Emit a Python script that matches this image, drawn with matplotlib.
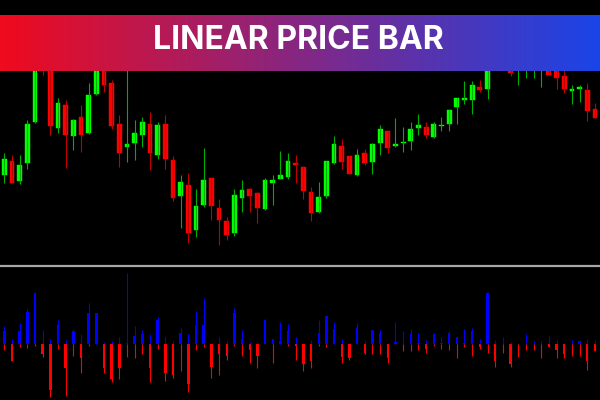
import numpy as np
import matplotlib
matplotlib.use('Agg')
import matplotlib.pyplot as plt
from matplotlib.lines import Line2D

# candle data (open, high, low, close) on an arbitrary price scale
opens = [125, 138.7, 119.3, 136.7, 177.7, 255, 242, 172, 195, 163.7,
         182.7, 167.3, 206.3, 240, 217, 176, 153.3, 157, 165.3, 176,
         145, 176, 140.3, 104.3, 114.7, 70, 95, 122, 92.3, 79,
         66.7, 102.3, 111.3, 106.7, 90.7, 117.3, 121.3, 123, 137, 133.3,
         108, 88.3, 104, 136.7, 154, 144, 125, 147, 138.3, 157,
         169, 153.7, 157, 159, 172, 173, 163, 174.3, 176, 193,
         200, 200, 213, 211.3, 245, 265, 255, 235, 236, 240,
         238, 245, 236, 224, 209.5, 211.3, 210, 191]
highs = [147, 145, 145, 179.7, 245, 262, 250, 201.7, 200, 181.3,
         195, 217.3, 242, 246, 220, 185, 232, 179.7, 183, 188.3,
         178, 185, 143.7, 125, 126.7, 111.3, 152, 122, 100.7, 83.3,
         111.3, 120, 112.3, 107.7, 121.7, 125, 149, 147, 145, 134,
         113.3, 118.3, 139.3, 164.3, 161, 144, 151, 151, 156.7, 175,
         169, 181.7, 173, 178, 186.3, 178, 178, 183, 191.3, 201.7,
         219, 219, 220, 245, 268, 272, 262, 258, 262, 266,
         260, 252, 240, 230, 215.3, 214.7, 216.7, 196.7]
lows = [117.3, 117, 116, 131.3, 177, 225, 165.3, 167.3, 131.7, 150,
        148, 165.7, 205, 208.3, 171, 133, 138.3, 140.3, 153.3, 130,
        140.7, 131.3, 99, 72.3, 57, 63.3, 92.7, 80, 55, 60,
        64.3, 88.3, 88.3, 76.7, 90, 95.3, 121, 121, 117.3, 101.3,
        79, 87.3, 101.7, 136, 131.3, 126, 124.3, 134.7, 126, 145,
        147, 153.3, 148, 150, 165, 162.3, 162.3, 169, 169, 176,
        196.3, 185.7, 208, 201, 240, 245, 224, 215, 221.7, 221.7,
        213.3, 225, 211.3, 206.7, 196.3, 197.7, 179.3, 182.3]
closes = [140.7, 117.3, 135.3, 176, 238, 238, 174.3, 197, 165.3, 179.7,
          165.3, 205, 235, 215, 174.3, 147, 156, 167.3, 178, 147,
          174.7, 141.3, 102.3, 118, 66.7, 94, 120, 94.3, 80, 65,
          105, 110, 104, 92.3, 120, 120, 125, 138.7, 134.7, 109.3,
          87.3, 103, 138.7, 156, 138.3, 126, 145, 136.7, 156, 171,
          152, 156, 158.3, 171, 175, 165, 176, 175, 190, 201.7,
          201.7, 215, 210, 240, 260, 250, 227, 250, 252, 255,
          250, 225, 222, 211.3, 211, 213.3, 189.3, 182.3]

# linear price bar histogram: upper tick, lower tick, body
hist_hi = [17.7, 5, 20.3, 34.3, 51.3, 13.7, 5, 23.3, 3.7, 13.7,
           9.7, 40.3, 30.3, 1.3, 2.3, 6.7, 71, 18, 14, 9.7,
           26.3, 6.7, 2.3, 16, 9.7, 33, 46, 0, 6.7, 2.3,
           36, 14, 1.3, 1.3, 24.3, 5, 22, 19.3, 6.7, 0,
           3.7, 23.7, 27.7, 22, 5, 0, 20.7, 2.3, 14, 14,
           0, 22, 12.7, 15, 11, 3.7, 11, 6.3, 12.7, 6.7,
           15, 15.3, 5, 51.7, 3.7, 6.7, 1.3, 0, 9.7, 2.3,
           2.3, 8, 3.7, 0, 3.7, 2.3, 5, 3.7]
hist_lo = [-6.3, -17.3, -3, -4.7, -2, -13.7, -53.7, -5, -52.3, -12,
           -29, -2.3, 0, -29.7, -38.3, -35.7, -13.7, -14.7, -10.7, -38.3,
           -5, -37.3, -34, -27.3, -48, -6, -3, -34, -31.3, -16,
           -2, -12, -19, -24, 0, -19, 0, -2, -16, -27,
           -24, -2, -3, 0, -19, -16, 0, -10.7, -10.7, -10.7,
           -19, 0, -7.7, -7.7, -6.3, -9.3, -2, -5, -6.3, -14.3,
           -3.7, -12, -5, -9.3, -23, -9.3, -23, -13.7, -6.3, -6.3,
           -14.3, -3.3, -14.3, -14.3, -12, -12, -26.3, -7.7]
hist_body = [12.7, -17.3, 12.7, 32, 50.3, -10.7, -46.3, 18.7, -24, 12.7,
             -14, 30.3, 30.3, -24, -35.7, -24, 1, 8, 9.7, -24,
             23.7, -29, -31.3, 10.3, -40.3, 18.7, 18.7, -23.3, -10.7, -12.3,
             30.3, 5, -6, -12.3, 23.7, 5, 2.7, 12.7, -2, -20.3,
             -17.3, 11, 27.7, 15, -13.7, -14.7, 16, -9.3, 14, 11,
             -14.3, 2, 0, 9.7, 0.5, -5.7, 9.7, 1, 11, 6.7,
             1, 12.7, -3.7, 50.3, -17.3, 0, -20.3, 0, 0, 0,
             0, -3.3, -6, -10.7, 0, 2.3, -17.3, -7.7]

title = 'LINEAR PRICE BAR'

n = len(opens)
x = np.arange(n)
W, H = 600, 400

fig = plt.figure(figsize=(6, 4), dpi=100, facecolor='black')

# price panel
ax = fig.add_axes([0, 136 / H, 1, 264 / H])
ax.set_facecolor('black')
for i in range(n):
    up = closes[i] >= opens[i]
    col = '#00ff00' if up else '#ff0000'
    wick = '#00b000' if up else '#c00000'
    ax.vlines(x[i], lows[i], highs[i], color=wick, lw=0.8)
    lo, hi = min(opens[i], closes[i]), max(opens[i], closes[i])
    ax.bar(x[i], max(hi - lo, 0.8), bottom=lo, width=0.62, color=col,
           edgecolor=col, lw=0.3)
ax.set_xlim(-4.3 / 7.67, (W - 4.3) / 7.67)
ax.set_ylim(36, 300)
ax.axis('off')

# indicator panel
ax2 = fig.add_axes([0, 0, 1, 132 / H])
ax2.set_facecolor('black')
for i in range(n):
    if hist_hi[i] > 0:
        ax2.vlines(x[i], 0, hist_hi[i], color='#0000ff', lw=0.8)
    if hist_lo[i] < 0:
        ax2.vlines(x[i], hist_lo[i], 0, color='#ff0000', lw=0.8)
    b = hist_body[i]
    if b != 0:
        ax2.bar(x[i], b, width=0.32, color='#0000ff' if b > 0 else '#ff0000',
                lw=0)
ax2.set_xlim(-4.3 / 7.67, (W - 4.3) / 7.67)
ax2.set_ylim(-56.3, 75.7)
ax2.axis('off')

# separator between panels
fig.add_artist(Line2D([0, 1], [1 - 266 / H] * 2, color='#a8a8a8', lw=1.6,
                      transform=fig.transFigure))

# gradient title banner
bax = fig.add_axes([0, 1 - 71 / H, 1, 56 / H])
left = np.array([240, 10, 30]) / 255
right = np.array([26, 68, 232]) / 255
t = np.linspace(0, 1, 300)[None, :, None]
grad = left + (right - left) * t
bax.imshow(grad, aspect='auto', extent=[0, 1, 0, 1])
bax.axis('off')
bax.text(0.498, 0.54, title, color='white', fontsize=23, fontweight='bold',
         family='Inter', ha='center', va='center')

fig.savefig('out.png', dpi=100, facecolor='black')
